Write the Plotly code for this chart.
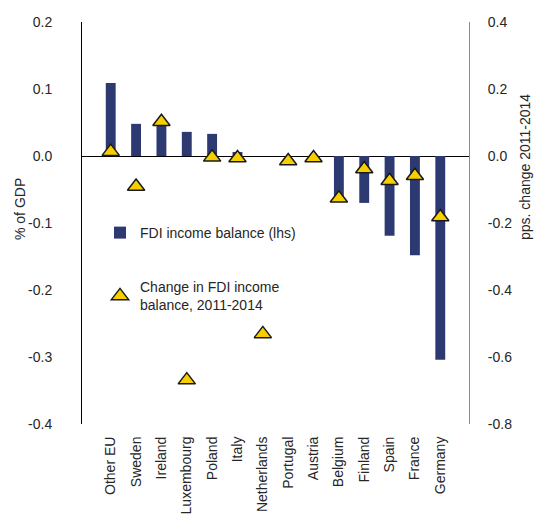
import plotly.graph_objects as go

countries = ['Other EU', 'Sweden', 'Ireland', 'Luxembourg', 'Poland', 'Italy', 'Netherlands',
             'Portugal', 'Austria', 'Belgium', 'Finland', 'Spain', 'France', 'Germany']
fdi_balance = [0.109, 0.048, 0.046, 0.036, 0.033, 0.006, 0.0,
               0.0, 0.0, -0.060, -0.070, -0.119, -0.148, -0.304]
fdi_change = [0.013, -0.091, 0.102, -0.669, -0.004, -0.006, -0.531,
              -0.015, -0.006, -0.126, -0.039, -0.074, -0.059, -0.182]

left_ticks = [0.2, 0.1, 0.0, -0.1, -0.2, -0.3, -0.4]
left_text = ['0.2', '0.1', '0.0', '-0.1', '-0.2', '-0.3', '-0.4']
right_ticks = [0.4, 0.2, 0.0, -0.2, -0.4, -0.6, -0.8]
right_text = ['0.4', '0.2', '0.0', '-0.2', '-0.4', '-0.6', '-0.8']

NAVY = '#2d3a72'
GOLD = '#f7cf00'
TXT = '#262626'
FONT = 'Liberation Sans, Arial, sans-serif'

# the page body adds an 8px margin, so the figure is 8px smaller and all
# pixel positions below are taken from the 542x519 window minus that offset
OFF = 8
W, H = 542 - OFF, 519 - OFF
L, T = 82 - OFF, 22 - OFF
R, B = 73, 95
pw = W - L - R
ph = H - T - B


def px_x(x):
    return (x - OFF - L) / pw


def px_y(y):
    return (H - B - (y - OFF)) / ph


fig = go.Figure()
fig.add_trace(go.Bar(x=countries, y=fdi_balance, name='FDI income balance (lhs)',
                     marker=dict(color=NAVY, line=dict(width=0)), width=0.39,
                     legendgroup='a'))
fig.add_trace(go.Scatter(x=countries, y=fdi_change, yaxis='y2', mode='markers',
                         name='Change in FDI income<br>balance, 2011-2014',
                         marker=dict(symbol='triangle-up', size=15, color=GOLD,
                                     line=dict(color='#1a1a1a', width=1.5)),
                         legendgroup='b'))

fig.update_layout(
    width=W, height=H,
    margin=dict(l=L, r=R, t=T, b=B),
    paper_bgcolor='white', plot_bgcolor='white',
    font=dict(family=FONT, size=14, color=TXT),
    legend=dict(x=px_x(100), y=px_y(217), xanchor='left', yanchor='top',
                bgcolor='rgba(0,0,0,0)', font=dict(size=14, color=TXT),
                traceorder='grouped', tracegroupgap=33, itemwidth=30),
    xaxis=dict(tickangle=-90, showline=False, showgrid=False, automargin=False,
               ticks='outside', ticklen=6, tickcolor='rgba(0,0,0,0)',
               tickfont=dict(size=14, color=TXT)),
    yaxis=dict(range=[-0.4, 0.2], tickvals=left_ticks, ticktext=left_text, automargin=False,
               showgrid=False, showline=True, linecolor='black', linewidth=1,
               ticks='outside', ticklen=26, tickcolor='rgba(0,0,0,0)',
               zeroline=True, zerolinecolor='black', zerolinewidth=1),
    yaxis2=dict(range=[-0.8, 0.4], tickvals=right_ticks, ticktext=right_text, automargin=False,
                overlaying='y', side='right', showgrid=False, zeroline=False,
                showline=True, linecolor='#8c8c8c', linewidth=1,
                ticks='outside', ticklen=15, tickcolor='rgba(0,0,0,0)'),
    annotations=[
        dict(text='% of GDP', x=px_x(20), y=px_y(209), xref='paper', yref='paper',
             xanchor='center', yanchor='middle',
             showarrow=False, textangle=-90, font=dict(size=14, color=TXT)),
        dict(text='pps. change 2011-2014', x=px_x(525), y=px_y(167), xref='paper',
             yref='paper', xanchor='center', yanchor='middle',
             showarrow=False, textangle=-90, font=dict(size=14, color=TXT)),
    ],
)

fig.write_html("out.html")
